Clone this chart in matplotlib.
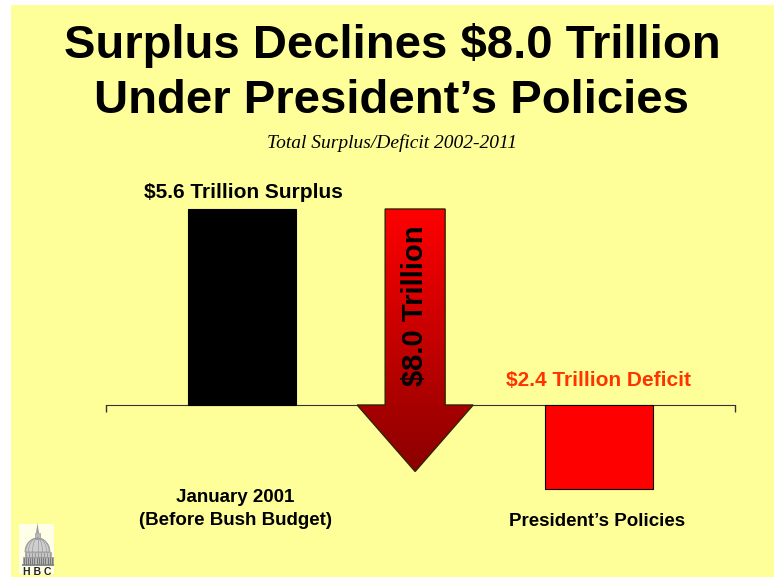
import numpy as np
import matplotlib
matplotlib.use("Agg")
import matplotlib.pyplot as plt
from matplotlib.patches import Polygon, Rectangle
from matplotlib.colors import LinearSegmentedColormap

# data (trillions of dollars)
categories = ["January 2001\n(Before Bush Budget)", "President\u2019s Policies"]
values = [5.6, -2.4]
change = 8.0
bar_labels = ["$5.6 Trillion Surplus", "$2.4 Trillion Deficit"]

W, H = 774, 577
fig = plt.figure(figsize=(W / 100, H / 100), dpi=100)
fig.patch.set_facecolor("white")

yellow = "#FFFF99"
# slide background (white strip left/top)
fig.add_artist(Rectangle((11 / W, 0), 1 - 11 / W, 1 - 5 / H, transform=fig.transFigure,
                         facecolor=yellow, edgecolor="none", zorder=0))

sans = "Liberation Sans"
serif = "Liberation Serif"

def fx(px):
    return px / W

def fy(py):
    return 1 - py / H

fig.text(fx(392), fy(45), "Surplus Declines $8.0 Trillion", ha="center", va="center",
         fontsize=34, fontweight="bold", family=sans)
fig.text(fx(392), fy(101), "Under President\u2019s Policies", ha="center", va="center",
         fontsize=34, fontweight="bold", family=sans)
fig.text(fx(392), fy(143), "Total Surplus/Deficit 2002-2011", ha="center", va="center",
         fontsize=14, style="italic", family=serif)

# axes: x pixels 106..735, 35 px per trillion, zero line at y=405
ylo, yhi = -2.8, 6.2
ppt = 35
top_px = 405 - yhi * ppt
bot_px = 405 - ylo * ppt
ax = fig.add_axes([fx(106), fy(bot_px), fx(735) - fx(106), (bot_px - top_px) / H])
ax.set_facecolor("none")
xlo, xhi = 0.238, 3.762
ax.set_xlim(xlo, xhi)
ax.set_ylim(ylo, yhi)

xpos = [1, 3]
ax.bar(xpos[0], values[0], width=0.605, color="black", edgecolor="black", lw=0.8, zorder=3)
ax.bar(xpos[1], values[1], width=0.605, color="#FF0000", edgecolor="black", lw=0.8, zorder=3)

for s in ["top", "left", "right"]:
    ax.spines[s].set_visible(False)
ax.spines["bottom"].set_position(("data", 0))
ax.spines["bottom"].set_color("#333333")
ax.set_yticks([])
ax.set_xticks([xlo, xhi])
ax.set_xticklabels([])
ax.tick_params(axis="x", direction="out", length=5, width=1, color="#333333")

# arrow showing the $8.0 trillion decline
ax_x = 1.97
shaft = 0.168
head = 0.325
tip = -1.9
arrow = [(ax_x - shaft, values[0]), (ax_x + shaft, values[0]), (ax_x + shaft, 0),
         (ax_x + head, 0), (ax_x, tip), (ax_x - head, 0), (ax_x - shaft, 0)]
poly = Polygon(arrow, closed=True, facecolor="none", edgecolor="#332200", lw=1, zorder=5)
ax.add_patch(poly)
cmap = LinearSegmentedColormap.from_list("redgrad", ["#8B0000", "#FF0000"])
grad = np.linspace(0, 1, 256).reshape(-1, 1)
im = ax.imshow(grad, cmap=cmap, origin="lower", aspect="auto",
               extent=[ax_x - head, ax_x + head, tip, values[0]], zorder=4)
im.set_clip_path(poly)
ax.set_xlim(xlo, xhi)
ax.set_ylim(ylo, yhi)
ax.text(ax_x, 2.85, "$8.0 Trillion", rotation=90, ha="center", va="center",
        fontsize=21, fontweight="bold", family=sans, color="black", zorder=6)

# labels
fig.text(fx(243), fy(192), bar_labels[0], ha="center", va="center",
         fontsize=15, fontweight="bold", family=sans)
fig.text(fx(599), fy(380), bar_labels[1], ha="center", va="center",
         fontsize=15, fontweight="bold", family=sans, color="#FF3300")
fig.text(fx(235), fy(509), categories[0], ha="center", va="center", linespacing=1.45,
         fontsize=13.5, fontweight="bold", family=sans)
fig.text(fx(597), fy(521), categories[1], ha="center", va="center",
         fontsize=13.5, fontweight="bold", family=sans)

# small HBC capitol logo (axes units = pixels, 0 at bottom edge)
lg = fig.add_axes([fx(14), fy(577), fx(44), 57 / H])
lg.set_xlim(0, 44)
lg.set_ylim(0, 57)
lg.axis("off")
lg.add_patch(Rectangle((5, 3), 35, 50, facecolor="#FFFFE8", edgecolor="none"))
cx = 23.5
lg.add_patch(Rectangle((cx - 16, 11), 32, 2, facecolor="#8C8C8C", edgecolor="none"))
lg.add_patch(Rectangle((cx - 15, 13), 30, 7, facecolor="#B4B4B4", edgecolor="#808080", lw=0.4))
for c in np.arange(cx - 14, cx + 15, 2.2):
    lg.add_line(plt.Line2D([c, c], [13.5, 19.5], color="#6E6E6E", lw=0.6))
lg.add_patch(Rectangle((cx - 13, 20), 26, 5, facecolor="#C4C4C4", edgecolor="#909090", lw=0.4))
for c in np.arange(cx - 12, cx + 13, 3):
    lg.add_line(plt.Line2D([c, c], [20.5, 24.5], color="#8A8A8A", lw=0.5))
t = np.linspace(0, np.pi, 60)
dome = np.column_stack([cx + 12.5 * np.cos(t), 25 + 14 * np.sin(t)])
lg.add_patch(Polygon(dome, closed=True, facecolor="#CFCFCF", edgecolor="#8C8C8C", lw=0.5))
for a in np.linspace(0.35, np.pi - 0.35, 7):
    s = np.linspace(0, 1, 20)
    lg.add_line(plt.Line2D(cx + 12.5 * np.cos(a) * np.sqrt(1 - s ** 2),
                           25 + 14 * s, color="#9A9A9A", lw=0.5))
lg.add_patch(Rectangle((cx - 2.5, 38), 5, 6, facecolor="#B8B8B8", edgecolor="#8C8C8C", lw=0.4))
lg.add_patch(Polygon([(cx - 1.5, 44), (cx + 1.5, 44), (cx, 54)], closed=True,
                     facecolor="#9C9C9C", edgecolor="none"))
lg.text(cx, 5, "H B C", ha="center", va="center", fontsize=7.5, fontweight="bold",
        family=sans, color="#222222")

fig.savefig("out.png", dpi=100, facecolor=fig.get_facecolor())
